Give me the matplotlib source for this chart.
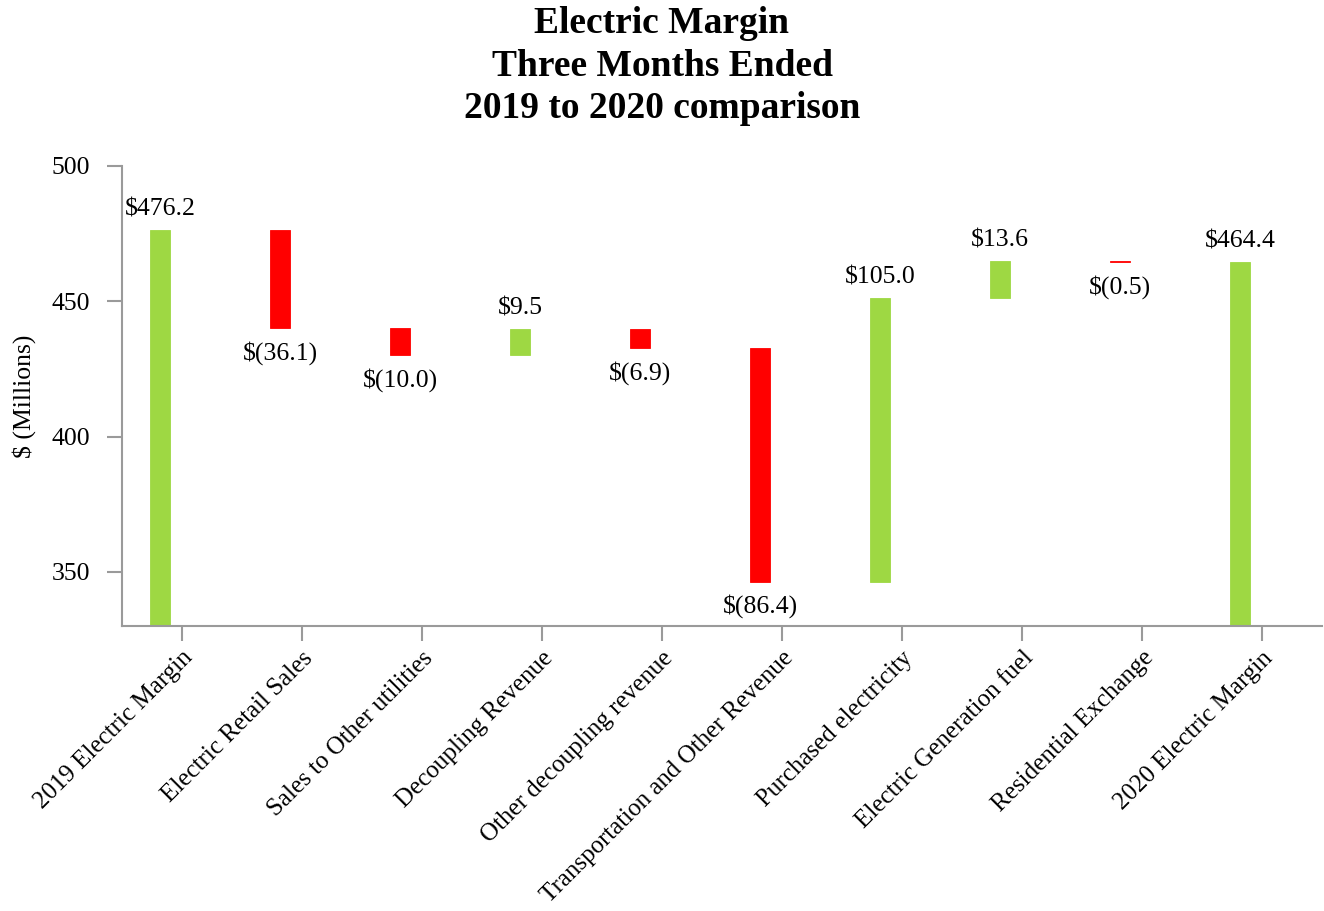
import matplotlib
matplotlib.use("Agg")
import matplotlib.pyplot as plt
import numpy as np

plt.rcParams['font.family'] = ['Liberation Serif', 'DejaVu Serif']

categories = [
    "2019 Electric Margin", "Electric Retail Sales", "Sales to Other utilities",
    "Decoupling Revenue", "Other decoupling revenue", "Transportation and Other Revenue",
    "Purchased electricity", "Electric Generation fuel", "Residential Exchange",
    "2020 Electric Margin",
]
changes = [476.2, -36.1, -10.0, 9.5, -6.9, -86.4, 105.0, 13.6, -0.5, 464.4]
is_total = [True, False, False, False, False, False, False, False, False, True]
labels = ["$476.2", "$(36.1)", "$(10.0)", "$9.5", "$(6.9)", "$(86.4)",
          "$105.0", "$13.6", "$(0.5)", "$464.4"]

GREEN = "#9ED843"
RED = "#FF0000"
AXIS_GRAY = "#9A9A9A"
Y_MIN, Y_MAX = 330, 500
FS = 18.5

# Build waterfall segments
bottoms, heights, colors = [], [], []
running = 0.0
for v, tot in zip(changes, is_total):
    if tot:
        bottoms.append(Y_MIN)
        heights.append(v - Y_MIN)
        colors.append(GREEN)
        running = v
    else:
        start = running
        running = running + v
        bottoms.append(min(start, running))
        heights.append(abs(v))
        colors.append(GREEN if v > 0 else RED)

fig = plt.figure(figsize=(13.24, 9.11), dpi=100)
ax = fig.add_axes([0.0921, 0.3128, 0.9064, 0.505])

x = np.arange(len(categories))
bar_x = x - 0.183
ax.bar(bar_x, heights, bottom=bottoms, width=0.167, color=colors,
       edgecolor=colors, linewidth=0.6, zorder=2)

# Value labels: above rising/total bars, below falling bars
for bx, b, h, lab, v, tot in zip(bar_x, bottoms, heights, labels, changes, is_total):
    if tot or v > 0:
        ax.annotate(lab, (bx, b + h), xytext=(0, 7), textcoords="offset points",
                    ha="center", va="bottom", fontsize=FS, annotation_clip=False)
    else:
        ax.annotate(lab, (bx, b), xytext=(0, -9), textcoords="offset points",
                    ha="center", va="top", fontsize=FS, annotation_clip=False)

ax.set_xlim(-0.5, 9.5)
ax.set_ylim(Y_MIN, Y_MAX)
ax.set_yticks([350, 400, 450, 500])
ax.set_xticks(x)
ax.set_xticklabels(categories, rotation=45, ha="right", va="top",
                   rotation_mode="anchor", fontsize=18)
ax.tick_params(axis="y", labelsize=FS, length=11, width=1.5, color=AXIS_GRAY, pad=12)
ax.tick_params(axis="x", length=11, width=1.5, color=AXIS_GRAY, pad=4)

for side in ("top", "right"):
    ax.spines[side].set_visible(False)
for side in ("left", "bottom"):
    ax.spines[side].set_color(AXIS_GRAY)
    ax.spines[side].set_linewidth(1.5)

ax.set_ylabel("$ (Millions)", fontsize=FS, labelpad=11)

fig.suptitle("Electric Margin\nThree Months Ended\n2019 to 2020 comparison",
             fontsize=27, fontweight="bold", y=0.993, linespacing=1.28)

fig.savefig("out.png", dpi=100)
